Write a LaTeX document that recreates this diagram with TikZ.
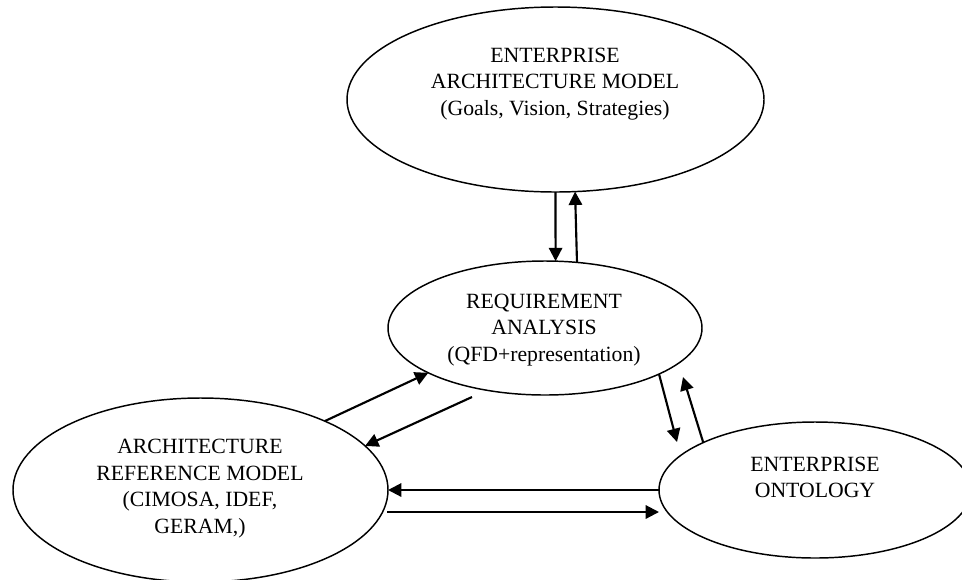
\documentclass[tikz,border=0pt]{standalone}
\usepackage{fontspec}
\setmainfont{Liberation Serif}
\usetikzlibrary{shapes.geometric,arrows.meta}

\tikzset{
  oval/.style={draw, ellipse, line width=1.1pt, inner sep=0pt, outer sep=0pt},
  caption/.style={align=center, inner sep=0pt, font=\fontsize{16.3}{19.9}\selectfont},
  link/.style={line width=1.6pt, -{Triangle[length=10pt,width=10pt]}}
}

\begin{document}
\begin{tikzpicture}[x=0.75pt, y=-0.75pt]
  \useasboundingbox (0,0) rectangle (962,579);

  % the four models
  \node[oval, minimum width=312.75pt, minimum height=138.75pt] (ea)  at (555.5,99.5) {};
  \node[oval, minimum width=235.5pt,  minimum height=100.5pt]  (req) at (545,328) {};
  \node[oval, minimum width=281.25pt, minimum height=138pt]    (arm) at (200.5,490) {};
  \node[oval, minimum width=234pt,    minimum height=102pt]    (ont) at (815,490) {};

  % their captions
  \node[caption] (eaText)  at (555,84)    {ENTERPRISE\\ARCHITECTURE MODEL\\(Goals, Vision, Strategies)};
  \node[caption] (reqText) at (544,330)   {REQUIREMENT\\ANALYSIS\\(QFD+representation)};
  \node[caption] (armText) at (200,488.5) {ARCHITECTURE\\REFERENCE MODEL\\(CIMOSA, IDEF,\\GERAM,)};
  \node[caption] (ontText) at (815,477.5) {ENTERPRISE\\ONTOLOGY};

  % free ends of some connectors
  \coordinate (reqOut)  at (472,397);
  \coordinate (ontIn)   at (677,442);
  \coordinate (reqIn)   at (683,377);
  \coordinate (armOut)  at (387,512);

  % enterprise architecture <-> requirement analysis
  \draw[link] (ea.270) -- (req.81.07);
  \draw[link] (req.64.73) -- (ea.282.56);

  % requirement analysis <-> architecture reference model
  \draw[link] (arm.29.55) -- (req.201.46);
  \draw[link] (reqOut) -- (arm.15.76);

  % requirement analysis <-> enterprise ontology
  \draw[link] (req.338.03) -- (ontIn);
  \draw[link] (ont.157.8) -- (reqIn);

  % architecture reference model <-> enterprise ontology
  \draw[link] (ont.west) -- (ont.west -| arm.east);
  \draw[link] (armOut) -- (armOut -| ont.west);
\end{tikzpicture}
\end{document}
